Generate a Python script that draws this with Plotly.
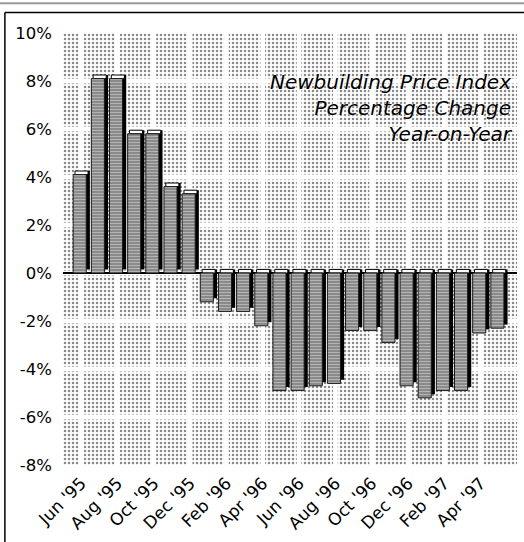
import plotly.graph_objects as go

# Newbuilding price index, % change year-on-year, monthly
months = [
    "Jun '95", "Jul '95", "Aug '95", "Sep '95", "Oct '95", "Nov '95",
    "Dec '95", "Jan '96", "Feb '96", "Mar '96", "Apr '96", "May '96",
    "Jun '96", "Jul '96", "Aug '96", "Sep '96", "Oct '96", "Nov '96",
    "Dec '96", "Jan '97", "Feb '97", "Mar '97", "Apr '97", "May '97",
]
change = [
    4.1, 8.1, 8.1, 5.8, 5.8, 3.6,
    3.3, -1.2, -1.6, -1.6, -2.2, -4.9,
    -4.9, -4.7, -4.6, -2.4, -2.4, -2.9,
    -4.7, -5.2, -4.9, -4.9, -2.5, -2.3,
]
y_ticks = [-8, -6, -4, -2, 0, 2, 4, 6, 8, 10]
y_tick_labels = [f"{v}%" for v in y_ticks]

x_pos = list(range(len(months)))
x_tickvals = x_pos[::2]
x_ticktext = months[::2]
x_range = [-1, len(months)]

# Halftone background cells separated by white grid gaps
gap_x, gap_y = 0.26, 0.2
x_edges = [x_range[0]] + x_tickvals + [x_range[1]]
cell_x, cell_w, cell_base, cell_h = [], [], [], []
for i in range(len(x_edges) - 1):
    x0, x1 = x_edges[i], x_edges[i + 1]
    if i > 0:
        x0 += gap_x / 2
    if i < len(x_edges) - 2:
        x1 -= gap_x / 2
    for j in range(len(y_ticks) - 1):
        y0, y1 = y_ticks[j], y_ticks[j + 1]
        if j > 0:
            y0 += gap_y / 2
        if j < len(y_ticks) - 2:
            y1 -= gap_y / 2
        cell_x.append((x0 + x1) / 2)
        cell_w.append(x1 - x0)
        cell_base.append(y0)
        cell_h.append(y1 - y0)

fig = go.Figure()

fig.add_trace(go.Bar(
    x=cell_x, y=cell_h, base=cell_base, width=cell_w,
    marker=dict(
        color="white",
        line=dict(width=0),
        pattern=dict(shape=".", fgcolor="#111111", bgcolor="white",
                     size=4, solidity=0.3),
    ),
    hoverinfo="skip", showlegend=False,
))

# 3-D look: dark depth face, white top face, textured front face
depth_dx, depth_dy = 0.2, 0.15
front_offset, front_width = -0.44, 0.72

fig.add_trace(go.Bar(
    x=x_pos, y=change, base=[depth_dy] * len(change),
    offset=front_offset + depth_dx, width=front_width,
    marker=dict(color="black", line=dict(width=0)),
    hoverinfo="skip", showlegend=False,
))
fig.add_trace(go.Bar(
    x=x_pos, y=[depth_dy] * len(change), base=[max(v, 0) for v in change],
    offset=front_offset + depth_dx / 2, width=front_width,
    marker=dict(color="white", line=dict(color="black", width=1)),
    hoverinfo="skip", showlegend=False,
))
fig.add_trace(go.Bar(
    x=x_pos, y=change,
    offset=front_offset, width=front_width,
    marker=dict(
        color="#939393",
        line=dict(color="#1a1a1a", width=1),
        pattern=dict(shape="-", fgcolor="#e8e8e8", bgcolor="#8a8a8a",
                     size=3, solidity=0.3),
    ),
    name="Change y-o-y", showlegend=False,
))

fig.add_annotation(
    text="Newbuilding Price Index<br>Percentage Change<br>Year-on-Year",
    xref="paper", yref="paper", x=0.996, y=0.918,
    xanchor="right", yanchor="top", align="right", showarrow=False,
    font=dict(family="DejaVu Sans", size=20, color="black", style="italic",
              shadow="0px 0px 2px white"),
)

# Frame lines around the figure
fig.add_shape(type="line", xref="paper", yref="paper",
              x0=-0.15, x1=1.02, y0=1.069, y1=1.069,
              line=dict(color="#999999", width=2))
fig.add_shape(type="line", xref="paper", yref="paper",
              x0=-0.128, x1=1.02, y0=1.0475, y1=1.0475,
              line=dict(color="black", width=1.5))
fig.add_shape(type="line", xref="paper", yref="paper",
              x0=-0.128, x1=-0.128, y0=1.0475, y1=-0.2,
              line=dict(color="black", width=1.5))

fig.update_layout(
    width=524, height=542,
    margin=dict(l=63, r=7, t=33, b=77, autoexpand=False),
    barmode="overlay",
    plot_bgcolor="white", paper_bgcolor="white",
    font=dict(family="DejaVu Sans", size=16, color="black"),
    xaxis=dict(
        range=x_range, tickvals=x_tickvals, ticktext=x_ticktext,
        tickangle=-45, showgrid=False, zeroline=False, showline=False,
        ticks="", tickfont=dict(size=17), ticklabelstandoff=4,
        automargin=False,
    ),
    yaxis=dict(
        range=[y_ticks[0], y_ticks[-1]], tickvals=y_ticks,
        ticktext=y_tick_labels, showgrid=False, zeroline=True,
        zerolinecolor="black", zerolinewidth=1.5, showline=False,
        ticks="", ticklabelstandoff=10, tickfont=dict(size=16.5),
        automargin=False,
    ),
)

fig.write_html("out.html")
